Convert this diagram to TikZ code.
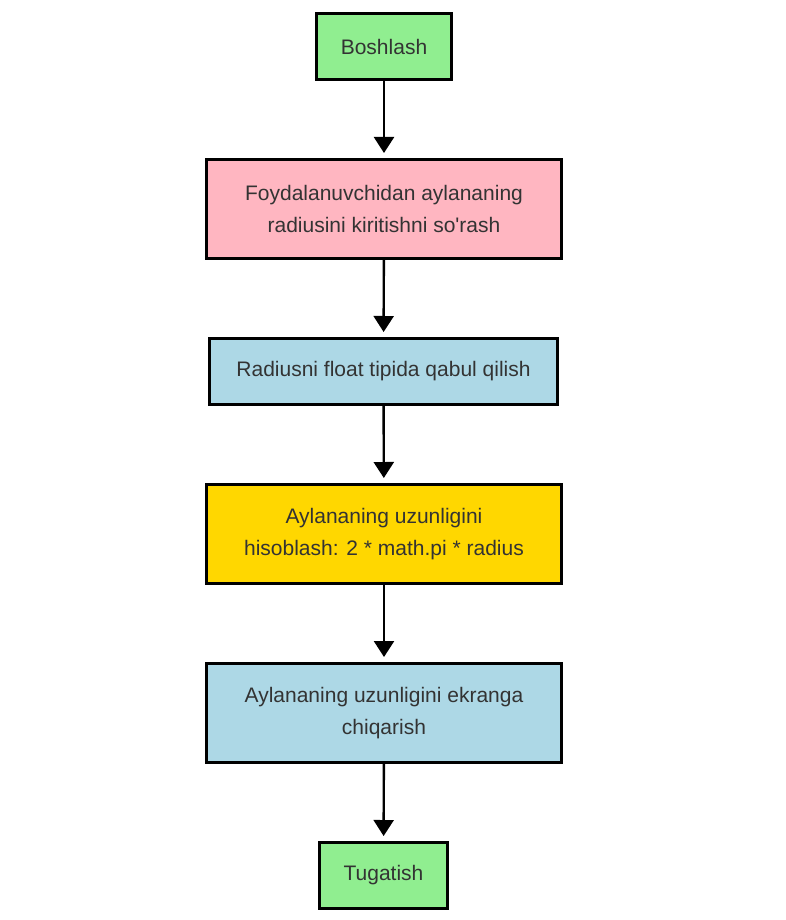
\documentclass[tikz,border=0pt]{standalone}
\usepackage{fontspec}
\setmainfont{Liberation Sans}
\usetikzlibrary{arrows.meta,shadows}
\definecolor{cgreen}{HTML}{90EE90}
\definecolor{cpink}{HTML}{FFB6C1}
\definecolor{cblue}{HTML}{ADD8E6}
\definecolor{cgold}{HTML}{FFD700}
\definecolor{ctext}{HTML}{333333}
\def\pxu{0.75pt}
\begin{document}
\begin{tikzpicture}[x=0.75pt,y=-0.75pt,
  box/.style={draw=black,line width=3*\pxu,align=center,text=ctext,
    font=\fontsize{15.75pt}{24pt}\selectfont,inner sep=0pt,
    drop shadow={opacity=0.18,shadow xshift=1.2pt,shadow yshift=-1.2pt}},
  conn/.style={line width=2.4*\pxu,-{Triangle[width=20*\pxu,length=16*\pxu]},shorten >=5*\pxu}]
\useasboundingbox (0,0) rectangle (785,920);
\node[box,fill=cgreen,minimum width=135*\pxu,minimum height=66*\pxu] (n1) at (384,46.5) {Boshlash};
\node[box,fill=cpink,minimum width=355*\pxu,minimum height=99*\pxu] (n2) at (384,209) {Foydalanuvchidan aylananing\\radiusini kiritishni so\textquotesingle rash};
\node[box,fill=cblue,minimum width=348*\pxu,minimum height=66*\pxu] (n3) at (383.5,371.5) {Radiusni float tipida qabul qilish};
\node[box,fill=cgold,minimum width=355*\pxu,minimum height=99*\pxu] (n4) at (384,534) {Aylananing uzunligini\\hisoblash: 2 * math.pi * radius};
\node[box,fill=cblue,minimum width=355*\pxu,minimum height=99*\pxu] (n5) at (384,713) {Aylananing uzunligini ekranga\\chiqarish};
\node[box,fill=cgreen,minimum width=128*\pxu,minimum height=66*\pxu] (n6) at (383.5,875.5) {Tugatish};
\draw[conn] (n1) -- (n2);
\draw[conn] (n2) -- (n3);
\draw[conn] (n3) -- (n4);
\draw[conn] (n4) -- (n5);
\draw[conn] (n5) -- (n6);
\end{tikzpicture}
\end{document}
